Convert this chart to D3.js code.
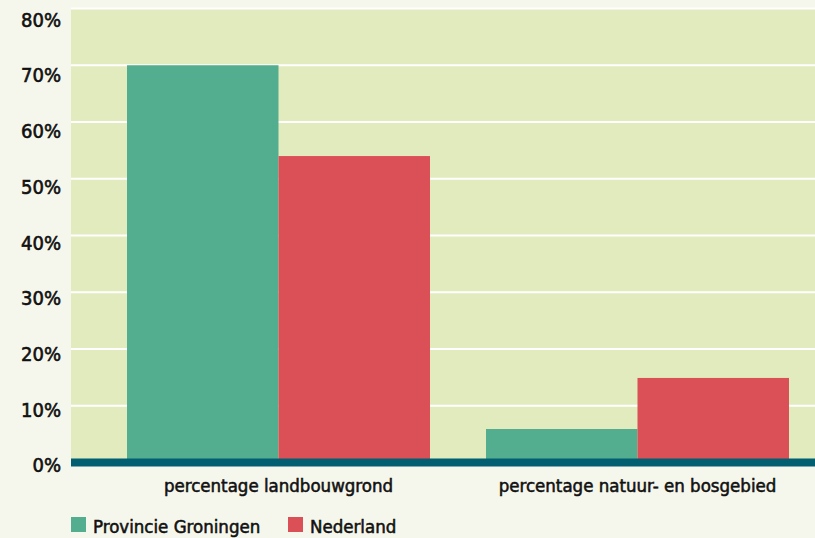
<!DOCTYPE html>
<html>
<head>
<meta charset="utf-8">
<script src="https://cdn.jsdelivr.net/npm/d3@7"></script>
<style>
  html, body { margin: 0; padding: 0; background: #f6f7ec; }
  svg { display: block; }
  text { font-family: "DejaVu Sans Condensed", "DejaVu Sans", sans-serif; fill: #111; }
</style>
</head>
<body>
<svg id="chart"></svg>
<script>
const categories = ['percentage landbouwgrond', 'percentage natuur- en bosgebied'];
const seriesNames = ['Provincie Groningen', 'Nederland'];
const groningen = [70, 5.9];
const nederland = [54.0, 14.9];
const yTicks = [0, 10, 20, 30, 40, 50, 60, 70, 80];

const W = 815, H = 538;
const colors = ['#52ae8e', '#db5056'];

const svg = d3.select('#chart').attr('width', W).attr('height', H);

const plotLeft = 71;
const y = d3.scaleLinear().domain([0, 80]).range([462.5, 8.5]);
// tick labels sit on a slightly tighter spacing than the gridlines
const yLab = d3.scaleLinear().domain([0, 80]).range([465.5, 19.7]);

const x0 = d3.scaleBand().domain(categories).range([plotLeft, 845])
  .paddingInner(0.156).paddingOuter(0.156);
const x1 = d3.scaleBand().domain(seriesNames).range([0, x0.bandwidth()]);

// plot background
svg.append('rect')
  .attr('x', plotLeft).attr('y', y(80))
  .attr('width', W - plotLeft).attr('height', y(0) - y(80))
  .attr('fill', '#e2ebbd');

// gridlines
svg.append('g')
  .selectAll('line')
  .data(yTicks)
  .enter().append('line')
  .attr('x1', plotLeft).attr('x2', W)
  .attr('y1', d => y(d)).attr('y2', d => y(d))
  .attr('stroke', '#ffffff').attr('stroke-width', 2);

// bars
const rows = categories.map((c, i) => ({ cat: c, vals: [groningen[i], nederland[i]] }));
const groups = svg.append('g').selectAll('g')
  .data(rows)
  .enter().append('g')
  .attr('transform', d => `translate(${x0(d.cat)},0)`);

groups.selectAll('rect')
  .data(d => d.vals.map((v, j) => ({ name: seriesNames[j], v, j })))
  .enter().append('rect')
  .attr('x', d => x1(d.name))
  .attr('width', x1.bandwidth())
  .attr('y', d => y(d.v))
  .attr('height', d => y(0) - y(d.v))
  .attr('fill', d => colors[d.j]);

// baseline band
svg.append('rect')
  .attr('x', plotLeft).attr('y', y(0) - 4)
  .attr('width', W - plotLeft).attr('height', 8)
  .attr('fill', '#025e71');

// y axis labels
const yAxis = d3.axisLeft(yLab).tickValues(yTicks).tickSize(0).tickPadding(0)
  .tickFormat(d => d + '%');
const yg = svg.append('g').attr('transform', 'translate(61,0)').call(yAxis);
yg.select('.domain').remove();
yg.selectAll('text')
  .attr('font-size', 20).attr('font-family', null)
  .attr('fill', '#111').attr('stroke', '#111').attr('stroke-width', 0.6);

// x axis labels
const xAxis = d3.axisBottom(x0).tickSize(0).tickPadding(0);
const xg = svg.append('g').attr('transform', 'translate(0,479)').call(xAxis);
xg.select('.domain').remove();
xg.selectAll('text')
  .attr('font-size', 18.5).attr('font-family', null)
  .attr('fill', '#111').attr('stroke', '#111').attr('stroke-width', 0.55);

// legend
const legendX = [71, 288];
const legend = svg.append('g').selectAll('g')
  .data(seriesNames)
  .enter().append('g')
  .attr('transform', (d, i) => `translate(${legendX[i]},517)`);

legend.append('rect')
  .attr('width', 15).attr('height', 15)
  .attr('fill', (d, i) => colors[i]);

legend.append('text')
  .attr('x', 22).attr('y', 15.5)
  .attr('font-size', 18.5)
  .attr('stroke', '#111').attr('stroke-width', 0.55)
  .text(d => d);
</script>
</body>
</html>
